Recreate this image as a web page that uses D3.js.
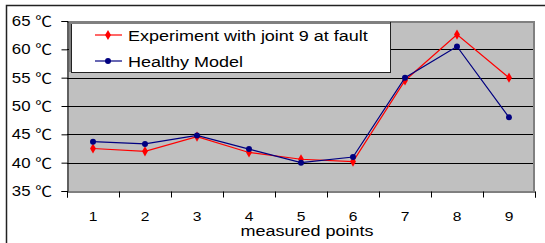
<!DOCTYPE html>
<html>
<head>
<meta charset="utf-8">
<script src="https://cdn.jsdelivr.net/npm/d3@7"></script>
<style>
  body { margin: 0; background: #fff; }
  svg { display: block; font-family: "Liberation Sans", Arial, "Noto Sans CJK SC", sans-serif; }
</style>
</head>
<body>
<script>
// temperature at measured points, faulty joint vs healthy model
var points = [1, 2, 3, 4, 5, 6, 7, 8, 9];
var experiment = [42.5, 42.0, 44.6, 41.8, 40.6, 40.2, 54.5, 62.6, 55.0];
var healthy = [43.7, 43.3, 44.8, 42.4, 40.0, 41.0, 55.0, 60.5, 48.0];
var yTicks = [35, 40, 45, 50, 55, 60, 65];
var seriesNames = ["Experiment with joint 9 at fault", "Healthy Model"];

var W = 545, H = 243;
var plotL = 67, plotR = 535, plotT = 21, plotB = 191;
var sx = 1.2; // the picture is stretched a bit sideways

var svg = d3.select("body").append("svg")
  .attr("width", W)
  .attr("height", H);

// outer frame
svg.append("rect")
  .attr("x", 6.5).attr("y", 5.5)
  .attr("width", W + 10).attr("height", H + 10)
  .attr("fill", "#fff")
  .attr("stroke", "#222")
  .attr("stroke-width", 1.5);

var x = d3.scaleLinear().domain([0.5, 9.5]).range([plotL, plotR]);
var y = d3.scaleLinear().domain([35, 65]).range([plotB, plotT]);

// plot area
svg.append("rect")
  .attr("x", plotL).attr("y", plotT)
  .attr("width", plotR - plotL).attr("height", plotB - plotT)
  .attr("fill", "#c0c0c0");

// gridlines
svg.selectAll(".grid")
  .data(yTicks.slice(1, -1))
  .enter().append("line")
  .attr("x1", plotL).attr("x2", plotR)
  .attr("y1", function (d) { return Math.round(y(d)) + 0.5; })
  .attr("y2", function (d) { return Math.round(y(d)) + 0.5; })
  .attr("stroke", "#000");

// top and right border of plot
svg.append("path")
  .attr("d", "M" + plotL + "," + (plotT + 1) + "H" + (plotR - 1) + "V" + plotB)
  .attr("fill", "none")
  .attr("stroke", "#808080")
  .attr("stroke-width", 2);

// y axis
var yAxis = svg.append("g")
  .attr("transform", "translate(" + (plotL + 0.5) + ",0)")
  .call(d3.axisLeft(y).tickValues(yTicks).tickSize(6).tickFormat(""));
yAxis.select(".domain").attr("stroke", "#000");
yAxis.selectAll(".tick line").attr("stroke", "#000");

svg.selectAll(".ylab")
  .data(yTicks)
  .enter().append("text")
  .attr("transform", function (d) {
    return "translate(52," + (y(d) + 5) + ") scale(" + sx + ",1)";
  })
  .attr("text-anchor", "end")
  .attr("font-size", 14)
  .attr("fill", "#000")
  .text(function (d) { return d + " \u2103"; });

// x axis
var xAxis = svg.append("g")
  .attr("transform", "translate(0," + (plotB + 0.5) + ")")
  .call(d3.axisBottom(x).tickValues(d3.range(0.5, 10, 1)).tickSize(6).tickFormat(""));
xAxis.select(".domain").attr("stroke", "#000");
xAxis.selectAll(".tick line").attr("stroke", "#000");

svg.selectAll(".xlab")
  .data(points)
  .enter().append("text")
  .attr("transform", function (d) {
    return "translate(" + x(d) + ",221) scale(" + sx + ",1)";
  })
  .attr("text-anchor", "middle")
  .attr("font-size", 13)
  .attr("fill", "#000")
  .text(function (d) { return d; });

svg.append("text")
  .attr("transform", "translate(307,236) scale(" + sx + ",1)")
  .attr("text-anchor", "middle")
  .attr("font-size", 15)
  .attr("fill", "#000")
  .text("measured points");

// series
var series = [
  { name: seriesNames[0], values: experiment, color: "#ff0000", sym: d3.symbolDiamond, size: 30 },
  { name: seriesNames[1], values: healthy, color: "#000080", sym: d3.symbolCircle, size: 28 }
];

var line = d3.line()
  .x(function (d, i) { return x(points[i]); })
  .y(function (d) { return y(d); });

series.forEach(function (s) {
  svg.append("path")
    .attr("d", line(s.values))
    .attr("fill", "none")
    .attr("stroke", s.color)
    .attr("stroke-width", 1.2);
  svg.selectAll(null)
    .data(s.values)
    .enter().append("path")
    .attr("d", d3.symbol().type(s.sym).size(s.size))
    .attr("transform", function (d, i) {
      return "translate(" + x(points[i]) + "," + y(d) + ")";
    })
    .attr("fill", s.color);
});

// legend
var lg = svg.append("g");
lg.append("rect")
  .attr("x", 71.5).attr("y", 22.5)
  .attr("width", 319).attr("height", 50)
  .attr("fill", "#fff")
  .attr("stroke", "#222");
lg.append("path")
  .attr("d", "M70,72V23H390")
  .attr("fill", "none")
  .attr("stroke", "#808080")
  .attr("stroke-width", 2);

series.forEach(function (s, i) {
  var ly = 35 + i * 26;
  lg.append("line")
    .attr("x1", 95).attr("x2", 122)
    .attr("y1", ly).attr("y2", ly)
    .attr("stroke", s.color)
    .attr("stroke-width", 1.2);
  lg.append("path")
    .attr("d", d3.symbol().type(s.sym).size(s.size))
    .attr("transform", "translate(108," + ly + ")")
    .attr("fill", s.color);
  lg.append("text")
    .attr("transform", "translate(128," + (ly + 5.5) + ") scale(" + sx + ",1)")
    .attr("font-size", 15)
    .attr("fill", "#000")
    .text(s.name);
});
</script>
</body>
</html>
